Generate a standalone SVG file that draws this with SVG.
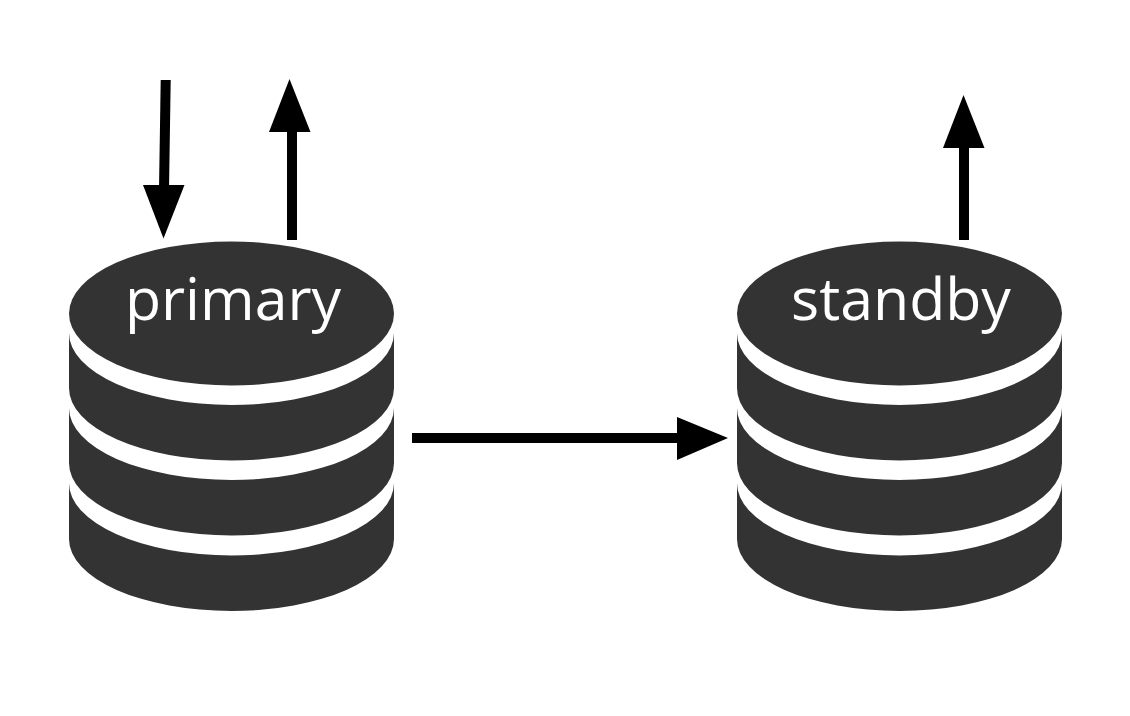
<svg xmlns="http://www.w3.org/2000/svg" width="1130" height="716" viewBox="0 0 1130 716">
<style>
.disk{fill:#333}
.lbl{font-family:"Open Sans","Noto Sans",sans-serif;font-size:59px;fill:#fff;text-anchor:middle}
.c{stroke:#000;stroke-width:10;fill:none}
.h{fill:#000}
</style>
<defs>
<g id="db">
<path class="disk" d="M69 333A162.5 72 0 0 0 394 333V388A162.5 72.500 0 0 1 69 388Z"/>
<path class="disk" d="M69 408A162.5 72 0 0 0 394 408V463A162.5 72.500 0 0 1 69 463Z"/>
<path class="disk" d="M69 483A162.5 72.500 0 0 0 394 483V539A162.5 72 0 0 1 69 539Z"/>
<ellipse class="disk" cx="231.500" cy="313.500" rx="162.500" ry="72"/>
</g>
</defs>
<g id="primary"><use href="#db"/><text class="lbl" x="233" y="319.500">primary</text></g>
<g id="standby"><use href="#db" x="668"/><text class="lbl" x="901" y="319.500">standby</text></g>
<g id="connectors">
<path class="c" d="M165.700 80L164 190"/><polygon class="h" points="143,185 184.500,185 163.500,238.500"/>
<path class="c" d="M292 240V128"/><polygon class="h" points="269,132 310.500,132 289.500,79"/>
<path class="c" d="M964 240V144"/><polygon class="h" points="943,148 984.500,148 963.500,95"/>
<path class="c" d="M412 438H682"/><polygon class="h" points="677,417 677,460 728,438"/>
</g>
</svg>
